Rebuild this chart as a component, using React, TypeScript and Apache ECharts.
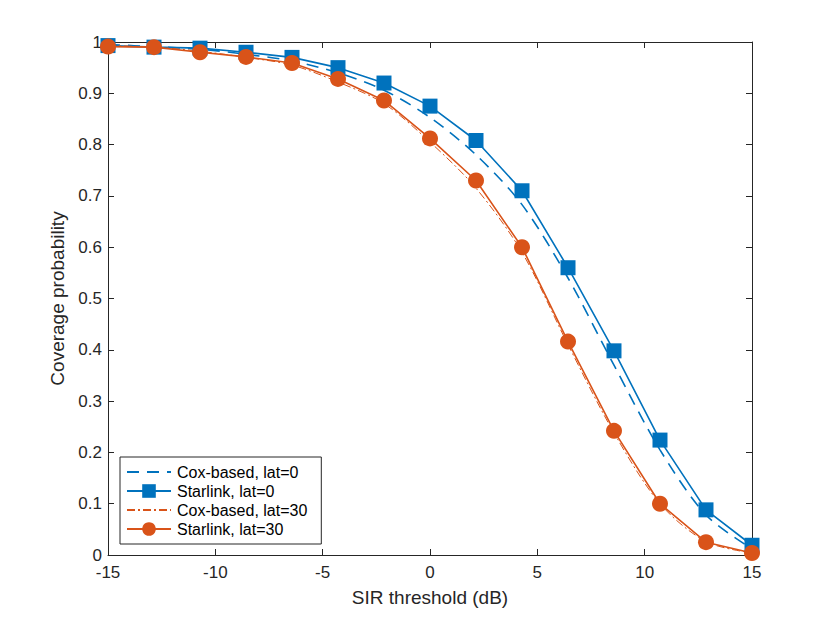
import React, { useEffect, useRef } from "react";
import * as echarts from "echarts";

const xValues = [-15, -12.857, -10.714, -8.571, -6.429, -4.286, -2.143, 0, 2.143, 4.286, 6.429, 8.571, 10.714, 12.857, 15];
const coxLat0 = [0.995, 0.991, 0.986, 0.976, 0.963, 0.94, 0.906, 0.853, 0.78, 0.683, 0.54, 0.37, 0.205, 0.078, 0.012];
const starlinkLat0 = [0.993, 0.99, 0.988, 0.98, 0.97, 0.95, 0.92, 0.875, 0.808, 0.71, 0.56, 0.398, 0.224, 0.088, 0.019];
const coxLat30 = [0.993, 0.99, 0.982, 0.97, 0.955, 0.922, 0.88, 0.805, 0.715, 0.59, 0.41, 0.238, 0.1, 0.026, 0.004];
const starlinkLat30 = [0.991, 0.99, 0.98, 0.971, 0.959, 0.928, 0.886, 0.812, 0.73, 0.6, 0.416, 0.242, 0.1, 0.025, 0.004];
const xTicks = [-15, -10, -5, 0, 5, 10, 15];
const yTicks = [0, 0.1, 0.2, 0.3, 0.4, 0.5, 0.6, 0.7, 0.8, 0.9, 1];

const BLUE = "#0072BD";
const ORANGE = "#D95319";
const AXIS = "#262626";
const FONT = "Liberation Sans";

const pairs = (ys: number[]) => xValues.map((x, i) => [x, ys[i]]);

export default function App() {
  const ref = useRef<HTMLDivElement>(null);
  useEffect(() => {
    if (!ref.current) return;
    const chart = echarts.init(ref.current, null, { renderer: "svg" });
    const axisLine = { show: true, onZero: false, lineStyle: { color: AXIS, width: 1 } };
    const tick = { show: true, inside: true, length: 6, lineStyle: { color: AXIS } };
    chart.setOption({
      animation: false,
      backgroundColor: "#ffffff",
      grid: { left: 108, right: 78, top: 42, bottom: 68, containLabel: false },
      xAxis: [
        {
          type: "value",
          min: -15,
          max: 15,
          interval: 5,
          axisLine,
          axisTick: tick,
          splitLine: { show: false },
          axisLabel: {
            color: AXIS,
            fontFamily: FONT,
            fontSize: 17,
            margin: 9,
            formatter: (v: number) => (xTicks.includes(v) ? String(v) : ""),
          },
          name: "SIR threshold (dB)",
          nameLocation: "middle",
          nameGap: 33,
          nameTextStyle: { color: AXIS, fontFamily: FONT, fontSize: 19 },
        },
        {
          type: "value",
          position: "top",
          min: -15,
          max: 15,
          interval: 5,
          axisLine,
          axisTick: tick,
          splitLine: { show: false },
          axisLabel: { show: false },
        },
      ],
      yAxis: [
        {
          type: "value",
          min: 0,
          max: 1,
          interval: 0.1,
          axisLine,
          axisTick: tick,
          splitLine: { show: false },
          axisLabel: {
            color: AXIS,
            fontFamily: FONT,
            fontSize: 17,
            margin: 6,
            formatter: (v: number) => {
              const t = yTicks.find((y) => Math.abs(y - v) < 1e-6);
              return t === undefined ? "" : String(Number(t.toFixed(1)));
            },
          },
          name: "Coverage probability",
          nameLocation: "middle",
          nameGap: 38,
          nameTextStyle: { color: AXIS, fontFamily: FONT, fontSize: 19 },
        },
        {
          type: "value",
          position: "right",
          min: 0,
          max: 1,
          interval: 0.1,
          axisLine,
          axisTick: tick,
          splitLine: { show: false },
          axisLabel: { show: false },
        },
      ],
      legend: {
        orient: "vertical",
        left: 120,
        top: 457,
        itemWidth: 44,
        itemHeight: 17,
        itemGap: 3,
        padding: [7, 14, 7, 6],
        borderColor: AXIS,
        borderWidth: 1,
        backgroundColor: "#ffffff",
        textStyle: { color: "#000", fontFamily: FONT, fontSize: 16, padding: [0, 0, 0, 1] },
        data: [
          { name: "Cox-based, lat=0", itemStyle: { color: "rgba(0,0,0,0)" } },
          { name: "Starlink, lat=0" },
          { name: "Cox-based, lat=30", itemStyle: { color: "rgba(0,0,0,0)" } },
          { name: "Starlink, lat=30" },
        ],
      },
      series: [
        {
          name: "Cox-based, lat=0",
          type: "line",
          data: pairs(coxLat0),
          smooth: 0.3,
          symbol: "none",
          lineStyle: { color: BLUE, width: 1.6, type: [12, 8] },
          itemStyle: { color: BLUE },
        },
        {
          name: "Starlink, lat=0",
          type: "line",
          data: pairs(starlinkLat0),
          symbol: "rect",
          symbolSize: 15,
          lineStyle: { color: BLUE, width: 1.6 },
          itemStyle: { color: BLUE },
        },
        {
          name: "Cox-based, lat=30",
          type: "line",
          data: pairs(coxLat30),
          smooth: 0.3,
          symbol: "none",
          lineStyle: { color: ORANGE, width: 1, type: [8, 3, 2, 3] },
          itemStyle: { color: ORANGE },
        },
        {
          name: "Starlink, lat=30",
          type: "line",
          data: pairs(starlinkLat30),
          symbol: "circle",
          symbolSize: 16,
          lineStyle: { color: ORANGE, width: 1.6 },
          itemStyle: { color: ORANGE },
        },
      ],
    });
    return () => chart.dispose();
  }, []);
  return (
    <div
      ref={ref}
      style={{ position: "absolute", left: 0, top: 0, width: 830, height: 623 }}
    />
  );
}
